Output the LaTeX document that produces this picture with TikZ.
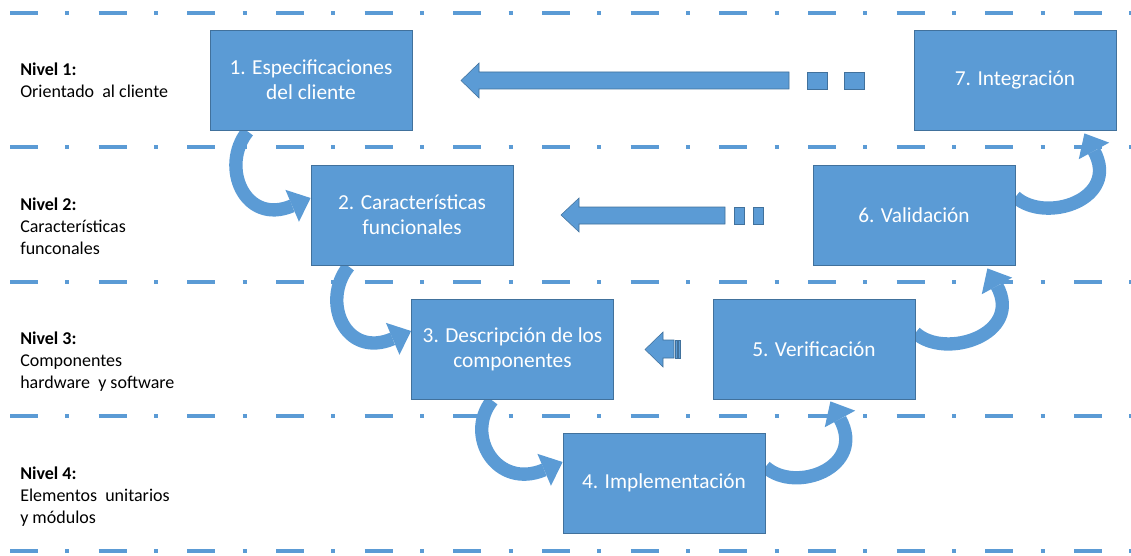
\documentclass[tikz,border=0pt]{standalone}
\usepackage{fontspec}
\setmainfont{Carlito}
\usetikzlibrary{arrows.meta,calc,backgrounds}
\definecolor{officeblue}{RGB}{91,155,213}
\definecolor{officeline}{RGB}{65,113,156}
\tikzset{
stage/.style={draw=officeline,line width=0.6pt,fill=officeblue,text=white,minimum width=151.5pt,minimum height=75pt,align=center,font=\fontsize{16}{19}\selectfont},
levellabel/.style={anchor=north west,inner sep=0pt,align=left,font=\fontsize{13.5}{16.5}\selectfont},
levelline/.style={officeblue,line width=2.6pt,dash pattern=on 21pt off 20.5pt on 3pt off 22pt},
turn/.style={officeblue,line width=10pt,-{Triangle[length=15pt,width=26pt,line width=0pt]}},
blockarrow/.style={fill=officeblue,draw=officeline,line width=0.4pt}
}
\begin{document}
\begin{tikzpicture}[x=0.75pt,y=-0.75pt]
\useasboundingbox(0,0)rectangle(1131,556);
\node[levellabel](n1)at(20,63){\textbf{Nivel 1:}\\Orientado~ al cliente};
\node[levellabel](n2)at(20,198){\textbf{Nivel 2:}\\Características\\funconales};
\node[levellabel](n3)at(20,332){\textbf{Nivel 3:}\\Componentes\\hardware~ y software};
\node[levellabel](n4)at(20,467){\textbf{Nivel 4:}\\Elementos~ unitarios\\y módulos};
\node[stage](b1)at(311,80){1. Especificaciones\\del cliente};
\node[stage](b2)at(412,215){2. Características\\funcionales};
\node[stage](b3)at(512.5,349){3. Descripción de los\\componentes};
\node[stage](b4)at(664,483){4. Implementación};
\node[stage](b5)at(814,349){5. Verificación};
\node[stage](b6)at(914,215){6. Validación};
\node[stage](b7)at(1015,80){7. Integración};
\begin{scope}[on background layer]
\foreach \y in {13,147,282,416,551}{\draw[levelline](10,\y)--(1131,\y);}
\draw[turn]($(b1.south west)+(38,1)$).. controls +(-28,35) and +(-66,28) ..($(b2.west)+(0,-17)$);
\draw[turn]($(b2.south west)+(38,1)$).. controls +(-28,35) and +(-66,28) ..($(b3.west)+(0,-18)$);
\draw[turn]($(b3.south west)+(81,1)$).. controls +(-28,35) and +(-66,28) ..($(b4.west)+(0,-21)$);
\draw[turn]($(b4.east)+(0,-16)$).. controls +(30,27) and +(36,66) ..($(b5.south east)+(-85,2)$);
\draw[turn]($(b5.east)+(0,-16)$).. controls +(30,27) and +(36,66) ..($(b6.south east)+(-28,3)$);
\draw[turn]($(b6.east)+(0,-18)$).. controls +(30,27) and +(36,66) ..($(b7.south east)+(-32,3)$);
\end{scope}
\draw[blockarrow](461,80.5)--(479,63)--(479,72)--(789,72)--(789,89)--(479,89)--(479,98)--cycle;
\foreach \x in {807,844}{\draw[blockarrow](\x,72)rectangle++(20,17);}
\draw[blockarrow](561,215)--(579,198)--(579,207)--(725,207)--(725,224)--(579,224)--(579,232)--cycle;
\foreach \x in {734,753}{\draw[blockarrow](\x,207)rectangle++(10,17);}
\draw[blockarrow](645,349.5)--(663,332)--(663,340)--(674,340)--(674,358)--(663,358)--(663,367)--cycle;
\foreach \x in {675.5,678.5}{\draw[blockarrow](\x,340)rectangle++(1.5,18);}
\end{tikzpicture}
\end{document}
